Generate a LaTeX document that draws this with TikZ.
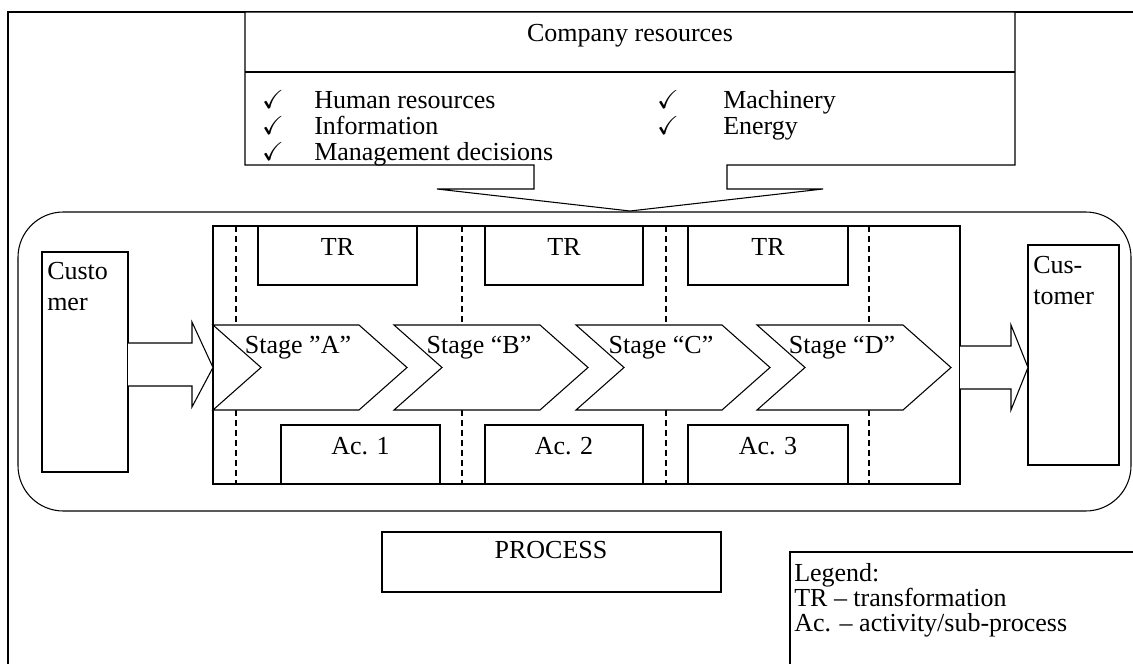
\documentclass[tikz,border=0pt]{standalone}
\usepackage{amssymb}
\usepackage{fontspec}
\setmainfont{Liberation Serif}
\usetikzlibrary{calc}

\begin{document}
\begin{tikzpicture}[x=0.75pt,y=-0.75pt,
  every node/.style={inner sep=0pt, font=\fontsize{19.5}{23}\selectfont},
  ln/.style={line width=0.8pt},
  sep/.style={line width=0.8pt, dash pattern=on 4.5pt off 3pt}]
\useasboundingbox (0,0) rectangle (1133,664);
\draw[line width=1pt] (8,664)--(8,12)--(1133,12);

\draw[ln, fill=white] (245,12)--(1015,12)--(1015,165)--(727,165)--(727,189)--(823,189)--(630,211)
  --(437,189)--(534,189)--(534,165)--(245,165)--cycle;
\draw[ln] (245,72)--(1015,72);
\node[anchor=base] (compTitle) at (630,41) {Company resources};
\foreach \t/\yy [count=\i] in {Human resources/108, Information/134, Management decisions/160}{
  \node[anchor=base] (chkL\i) at (273,\yy) {$\checkmark$};
  \node[anchor=base west] (resL\i) at (314,\yy) {\t};
}
\foreach \t/\yy [count=\i] in {Machinery/108, Energy/134}{
  \node[anchor=base] (chkR\i) at (668,\yy) {$\checkmark$};
  \node[anchor=base west] (resR\i) at (723,\yy) {\t};
}

\draw[ln, rounded corners=34pt] (18,212) rectangle (1131,511);
\draw[ln] (213,226) rectangle (960,484);

\foreach \xx in {236,462,666,869}{
  \draw[sep] (\xx,226)--(\xx,325);
  \draw[sep] (\xx,410)--(\xx,484);
}

\foreach \xa/\xb [count=\i] in {258/417, 485/643, 688/848}{
  \draw[ln] (\xa,226) rectangle (\xb,285);
  \node[anchor=base] (tr\i) at ({(\xa+\xb)/2},255) {TR};
}
\foreach \xa/\xb [count=\i] in {281/440, 485/643, 688/848}{
  \draw[ln] (\xa,425) rectangle (\xb,484);
  \node[anchor=base] (ac\i) at ({(\xa+\xb)/2},454) {Ac. \i};
}

\foreach \L/\s [count=\i] in {213/”A”, 394/“B”, 576/“C”, 757/“D”}{
  \draw[ln, fill=white] (\L,325)--({\L+146},325)--({\L+194},367.5)--({\L+146},410)--(\L,410)
    --({\L+48},367.5)--cycle;
  \node[anchor=base] (stage\i) at ({\L+85},353) {Stage \s};
}

\draw[ln] (42,252) rectangle (128,472);
\node[anchor=base west] (custIn1) at (47,279) {Custo};
\node[anchor=base west] (custIn2) at (47,310) {mer};
\draw[ln, fill=white] (128,343)--(192,343)--(192,322)--(213,367.5)--(192,407)--(192,386)--(128,386);

\draw[ln] (1028,245) rectangle (1119,465);
\node[anchor=base west] (custOut1) at (1033,273) {Cus-};
\node[anchor=base west] (custOut2) at (1033,304) {tomer};
\draw[ln, fill=white] (960,346)--(1011,346)--(1011,325)--(1028,367.5)--(1011,410)--(1011,389)--(960,389);

\draw[ln] (382,532) rectangle (721,592);
\node[anchor=base] (proc) at (551,558) {PROCESS};

\draw[ln] (790,664)--(790,552)--(1133,552);
\node[anchor=base west] (leg1) at (794,581) {Legend:};
\node[anchor=base west] (leg2) at (794,606) {TR – transformation};
\node[anchor=base west] (leg3) at (794,631) {Ac. – activity/sub-process};
\end{tikzpicture}
\end{document}
